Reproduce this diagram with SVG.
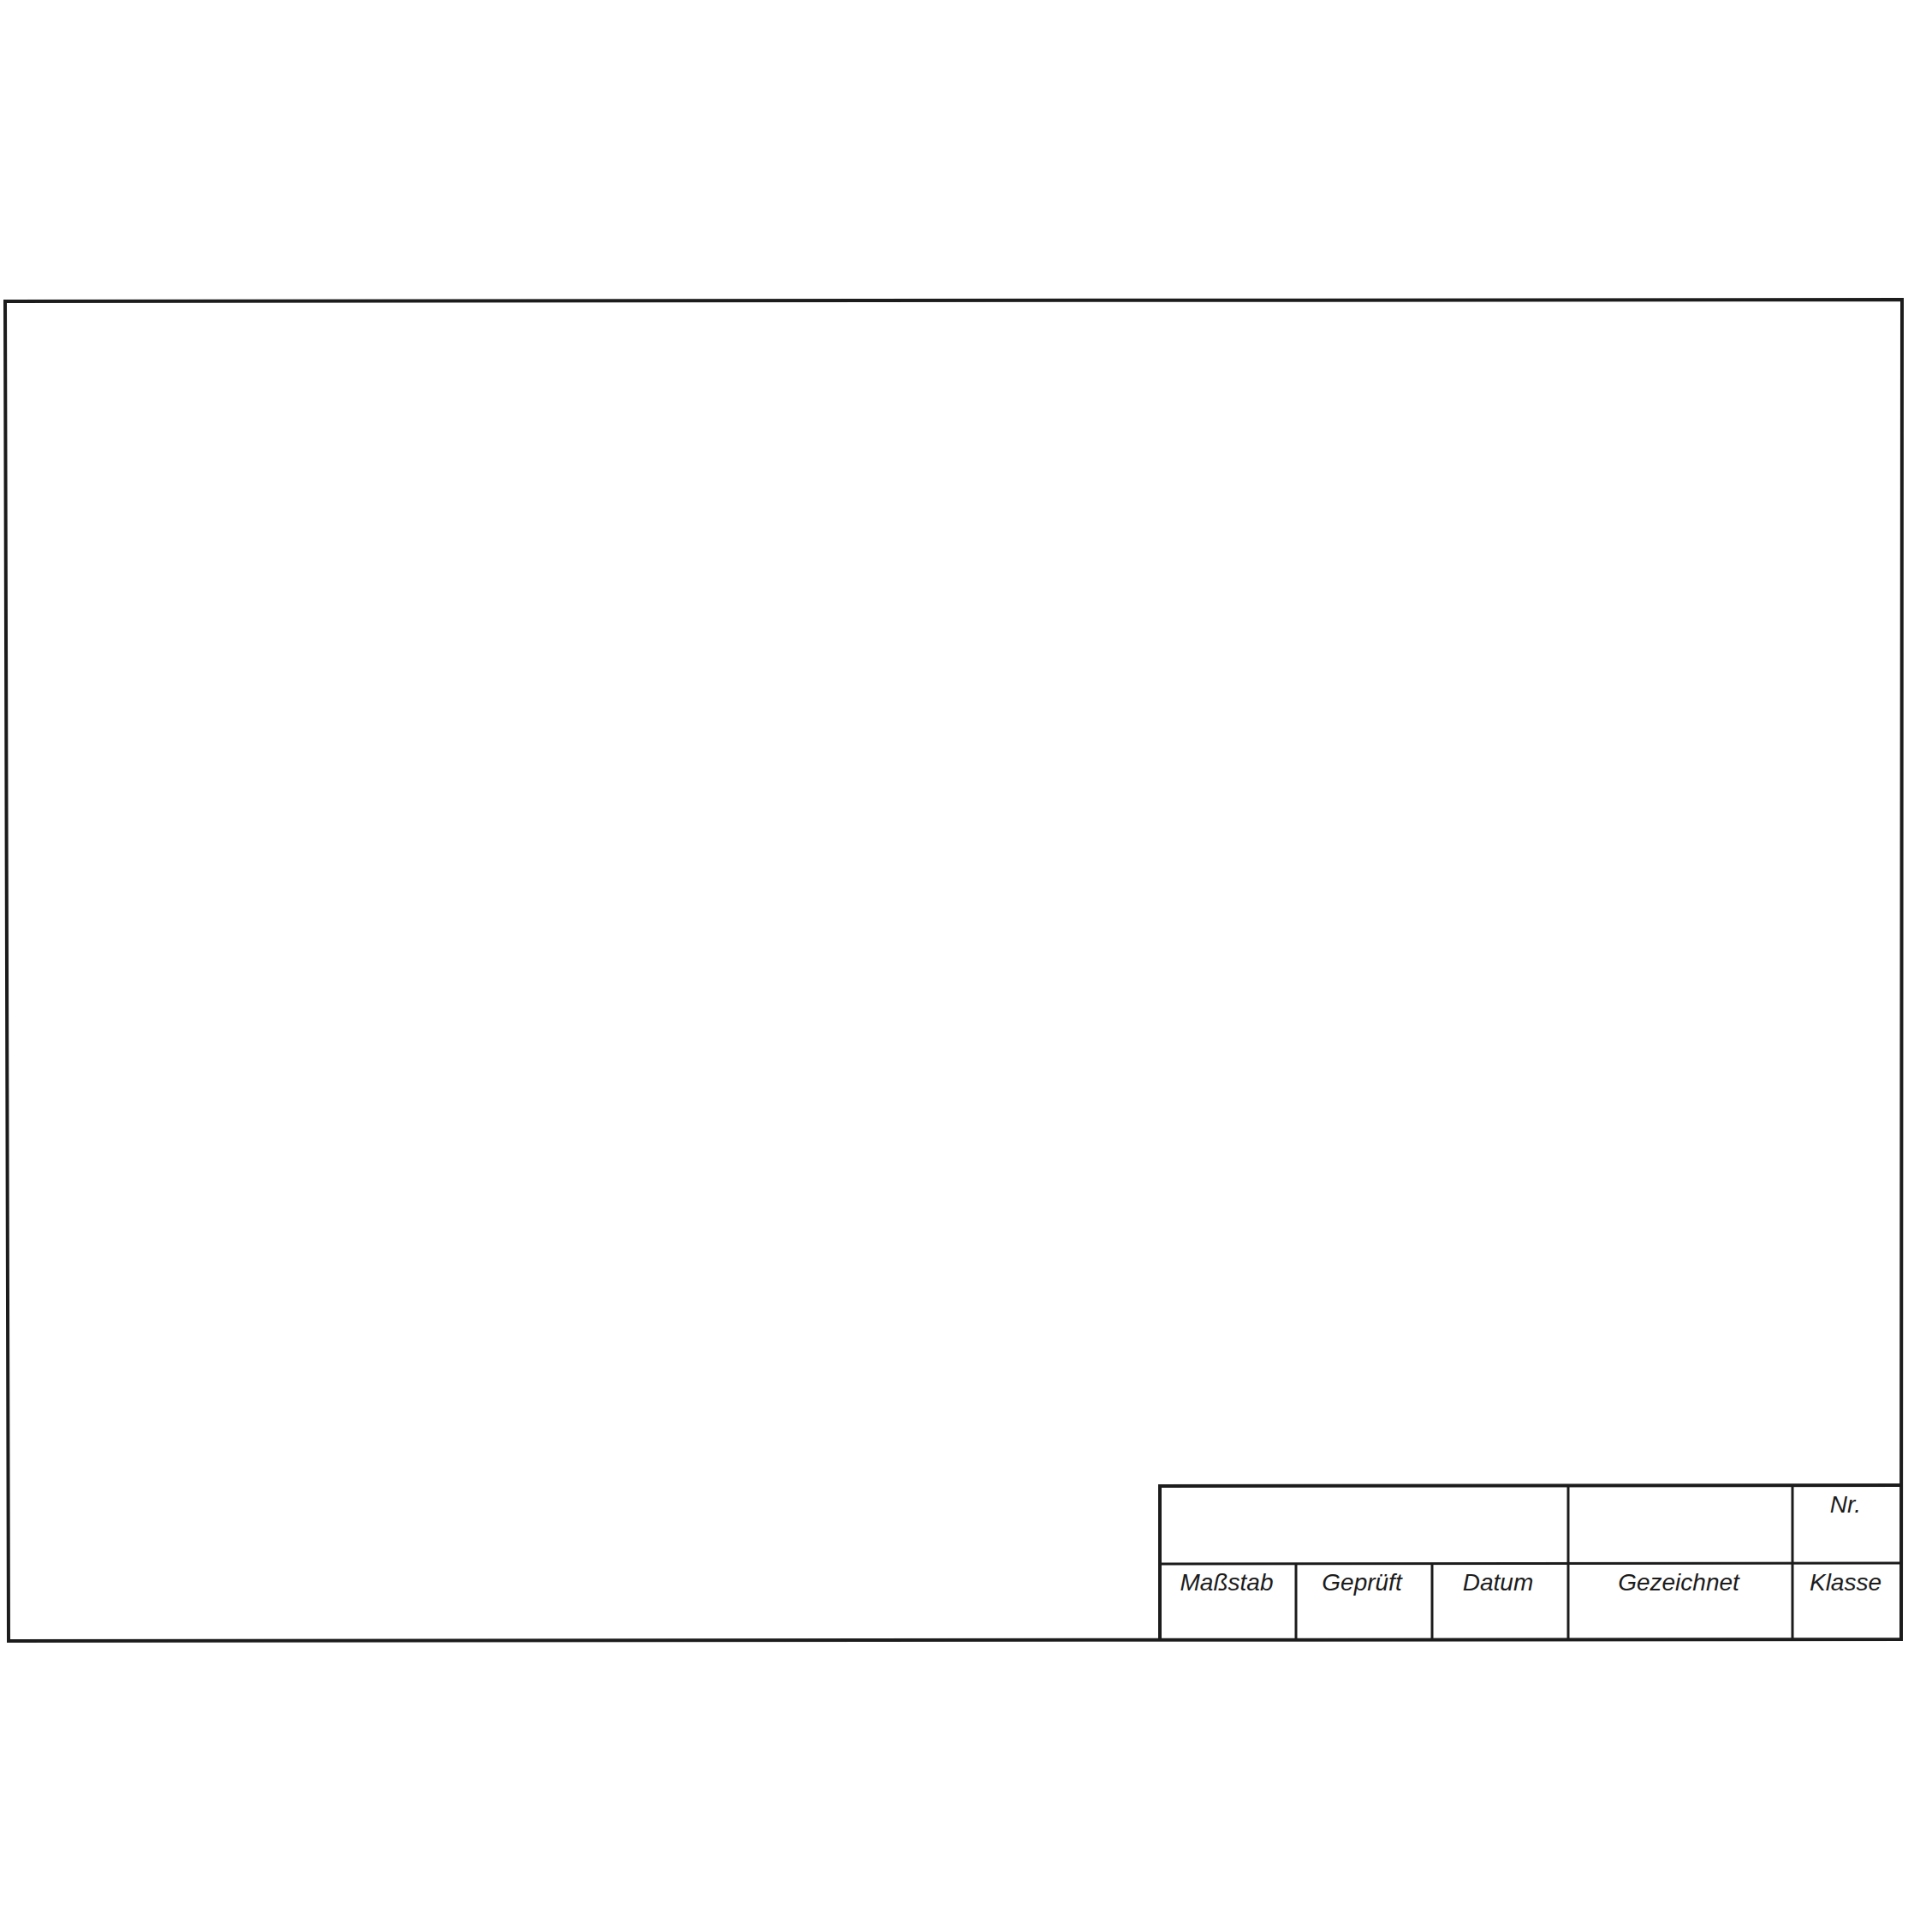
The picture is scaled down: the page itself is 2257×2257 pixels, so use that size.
<svg xmlns="http://www.w3.org/2000/svg" width="2257" height="2257" viewBox="0 0 2257 2257">
<style>
.thick{fill:none;stroke:#1c1c1c;stroke-width:4;stroke-linejoin:miter}
.thin{fill:none;stroke:#1c1c1c;stroke-width:3}
.lbl{font-family:"Liberation Sans",Arial,sans-serif;font-style:italic;font-size:28px;fill:#1c1c1c;text-anchor:middle}
</style>
<rect width="2257" height="2257" fill="#ffffff"/>
<g id="frame">
<polygon class="thick" points="6,352 2222,350 2221,1915 10,1917"/>
</g>
<g id="title-block">
<polyline class="thick" points="1355,1917 1355,1736 2221,1735"/>
<line class="thin" x1="1355" y1="1827" x2="2221" y2="1826"/>
<line class="thin" x1="1514" y1="1827" x2="1514" y2="1916"/>
<line class="thin" x1="1673" y1="1827" x2="1673" y2="1916"/>
<line class="thin" x1="1832" y1="1736" x2="1832" y2="1916"/>
<line class="thin" x1="2094" y1="1736" x2="2094" y2="1916"/>
</g>
<g id="labels">
<text class="lbl" x="1433" y="1858">Maßstab</text>
<text class="lbl" x="1591" y="1858">Geprüft</text>
<text class="lbl" x="1750" y="1858">Datum</text>
<text class="lbl" x="1961" y="1858">Gezeichnet</text>
<text class="lbl" x="2156" y="1858">Klasse</text>
<text class="lbl" x="2156" y="1767">Nr.</text>
</g>
</svg>
